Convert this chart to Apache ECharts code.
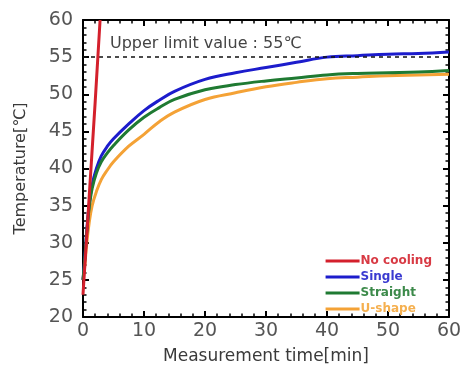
<!DOCTYPE html>
<html>
<head>
<meta charset="utf-8">
<script src="https://cdn.jsdelivr.net/npm/echarts@6/dist/echarts.min.js"></script>
<style>
  html, body { margin: 0; padding: 0; background: #fff; }
  #chart { width: 467px; height: 370px; }
</style>
</head>
<body>
<div id="chart"></div>
<script>
// data
const seriesNames = ['No cooling', 'Single', 'Straight', 'U-shape'];
const redTimes = [0, 1, 2, 2.8];
const redTemps = [23, 36, 49, 60];
const times = [0, 0.3, 0.6, 1, 1.5, 2.2, 3, 4, 5, 7.5, 10, 12.5, 15, 20, 25, 30, 35, 40, 45, 50, 55, 60];
const singleTemps   = [25, 28, 31.5, 35, 37.8, 40, 41.7, 43, 44, 46, 47.8, 49.2, 50.4, 52, 52.9, 53.6, 54.3, 55, 55.2, 55.4, 55.5, 55.7];
const straightTemps = [25, 27.8, 31.2, 34.6, 37.3, 39.4, 40.9, 42.1, 43.1, 45.2, 46.9, 48.2, 49.3, 50.6, 51.3, 51.8, 52.2, 52.6, 52.8, 52.9, 53.0, 53.2];
const ushapeTemps   = [25, 27, 29.8, 32.6, 35, 36.9, 38.5, 39.8, 40.9, 43, 44.6, 46.3, 47.6, 49.3, 50.2, 51, 51.6, 52.1, 52.3, 52.5, 52.6, 52.7];
const upperLimit = 55;
const xTicks = [0, 10, 20, 30, 40, 50, 60];
const yTicks = [20, 25, 30, 35, 40, 45, 50, 55, 60];

const lineColors = ['#d4202c', '#1c1ccc', '#1f7a32', '#f4a236'];
const textColors = ['#d83a44', '#3a3ad0', '#3c8a4a', '#f5b050'];
const FONT = 'DejaVu Sans';

const zip = (a, b) => a.map((v, i) => [v, b[i]]);

const chart = echarts.init(document.getElementById('chart'), null, { renderer: 'canvas' });

const axisCommon = {
    type: 'value',
    axisLine: { show: true, onZero: false, lineStyle: { color: '#000', width: 2 } },
    axisTick: { show: true, inside: true, length: 6, lineStyle: { color: '#000', width: 2 } },
    minorTick: { show: true, splitNumber: 5, length: 3.5, lineStyle: { color: '#000', width: 1.5 } },
    splitLine: { show: false },
    minorSplitLine: { show: false }
};

const option = {
    animation: false,
    grid: { left: 83, right: 18, top: 20, bottom: 44 },
    xAxis: [
        Object.assign({}, axisCommon, {
            min: xTicks[0], max: xTicks[xTicks.length - 1], interval: 10,
            position: 'bottom',
            name: 'Measurement time[min]',
            nameLocation: 'middle', nameGap: 31,
            nameTextStyle: { fontFamily: FONT, fontSize: 17, color: '#3a3a3a' },
            axisLabel: { fontFamily: FONT, fontSize: 19, color: '#555', margin: 5 }
        }),
        Object.assign({}, axisCommon, {
            min: xTicks[0], max: xTicks[xTicks.length - 1], interval: 10,
            position: 'top',
            axisLabel: { show: false }
        })
    ],
    yAxis: [
        Object.assign({}, axisCommon, {
            min: yTicks[0], max: yTicks[yTicks.length - 1], interval: 5,
            position: 'left',
            name: 'Temperature[℃]',
            nameLocation: 'middle', nameGap: 54, nameRotate: 90,
            nameTextStyle: { fontFamily: FONT, fontSize: 16, color: '#3a3a3a' },
            axisLabel: { fontFamily: FONT, fontSize: 19, color: '#555', margin: 10 }
        }),
        Object.assign({}, axisCommon, {
            min: yTicks[0], max: yTicks[yTicks.length - 1], interval: 5,
            position: 'right',
            axisLabel: { show: false }
        })
    ],
    legend: {
        right: 30, top: 249,
        orient: 'vertical',
        itemWidth: 34, itemHeight: 3, itemGap: 2,
        icon: 'rect',
        textStyle: { fontFamily: FONT, fontSize: 12, fontWeight: 'bold', lineHeight: 14, padding: [0, 0, 0, -4] },
        data: seriesNames.map((n, i) => ({ name: n, textStyle: { color: textColors[i] } }))
    },
    series: [
        {
            name: seriesNames[0], type: 'line', data: zip(redTimes, redTemps),
            showSymbol: false, clip: true,
            lineStyle: { color: lineColors[0], width: 3 }, itemStyle: { color: lineColors[0] }, z: 5
        },
        {
            name: seriesNames[1], type: 'line', data: zip(times, singleTemps), smooth: 0.4,
            showSymbol: false,
            lineStyle: { color: lineColors[1], width: 3 }, itemStyle: { color: lineColors[1] },
            markLine: {
                silent: true, symbol: 'none',
                lineStyle: { color: '#111', type: [4, 4], width: 1.5 },
                label: {
                    show: true, position: 'insideStartTop', distance: [27, 5],
                    formatter: 'Upper limit value : 55℃',
                    fontFamily: FONT, fontSize: 16, color: '#444'
                },
                data: [{ yAxis: upperLimit }]
            }
        },
        {
            name: seriesNames[2], type: 'line', data: zip(times, straightTemps), smooth: 0.4,
            showSymbol: false,
            lineStyle: { color: lineColors[2], width: 3 }, itemStyle: { color: lineColors[2] }
        },
        {
            name: seriesNames[3], type: 'line', data: zip(times, ushapeTemps), smooth: 0.4,
            showSymbol: false,
            lineStyle: { color: lineColors[3], width: 3 }, itemStyle: { color: lineColors[3] }, z: 1
        }
    ]
};

chart.setOption(option);
</script>
</body>
</html>
